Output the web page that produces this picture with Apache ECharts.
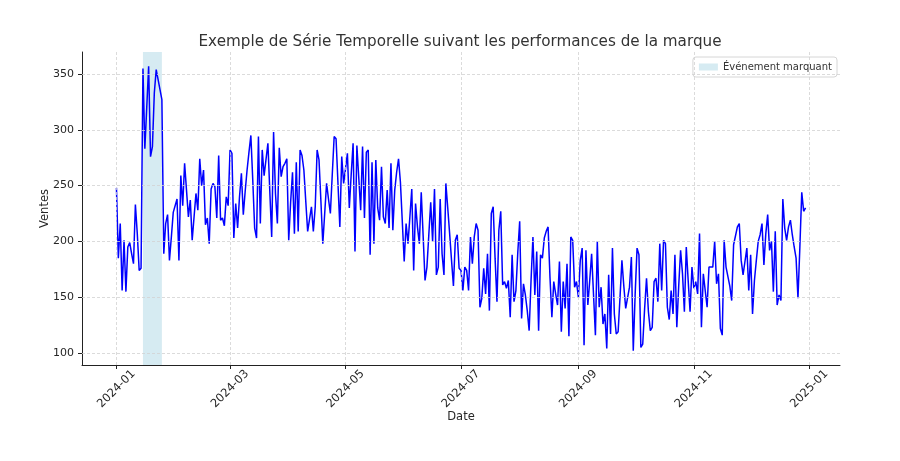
<!DOCTYPE html>
<html>
<head>
<meta charset="utf-8">
<script src="https://cdn.jsdelivr.net/npm/echarts@6/dist/echarts.min.js"></script>
<style>
html,body{margin:0;padding:0;background:#fff;}
#chart{width:900px;height:461px;}
</style>
</head>
<body>
<div id="chart"></div>
<script>
// ---- DATA ----
const startDate = '2024-01-01';   // one value per day from this date
const sales = [
248,185,216,156,201,155,195,199,189,180,233,207,174,176,355,283,320,357,276,285,
333,354,345,345,327,189,216,224,183,204,226,227,238,183,259,232,270,246,222,237,
201,200,243,228,274,250,264,215,221,198,247,252,249,221,277,219,221,214,240,232,
282,279,203,234,212,240,261,224,245,264,280,295,255,212,203,294,216,282,259,258,
288,245,204,298,243,216,284,258,267,270,274,201,235,262,207,271,209,282,277,264,
236,209,220,231,209,231,282,273,236,198,225,252,238,225,260,294,292,291,213,276,
252,265,279,230,260,288,191,286,285,228,285,221,280,282,188,271,198,273,230,219,
267,222,216,246,212,270,210,246,262,274,253,252,182,216,198,222,247,174,234,213,
198,244,205,165,177,206,235,200,247,170,177,238,189,170,252,230,207,183,160,201,
206,176,174,156,177,174,156,204,180,204,216,210,141,149,176,153,189,138,225,231,
185,146,210,227,161,164,158,165,132,188,146,156,190,218,131,162,152,138,120,165,
204,152,191,120,188,185,203,209,213,168,132,164,153,143,182,119,164,140,180,115,
204,201,159,164,150,183,194,107,192,143,165,189,188,116,200,141,159,126,135,104,
170,117,194,135,117,119,150,183,160,140,140,159,186,102,153,194,188,105,108,140,
167,137,120,123,164,167,146,198,156,201,198,141,130,156,135,188,123,160,192,171,
137,195,165,137,177,158,164,153,207,123,171,156,141,177,177,177,200,162,171,122,
116,201,177,176,160,147,197,198,213,216,183,170,182,194,156,188,135,165,183,200,
206,216,179,207,224,192,200,155,209,143,152,147,238,212,201,213,219,206,195,185,
149,195,244,227,230
];
const eventStart = '2024-01-15';
const eventEnd = '2024-01-25';
const eventName = 'Événement marquant';
const xTickLabels = ['2024-01','2024-03','2024-05','2024-07','2024-09','2024-11','2025-01'];
const yTicks = [100,150,200,250,300,350];
const titleText = 'Exemple de Série Temporelle suivant les performances de la marque';
const xName = 'Date';
const yName = 'Ventes';

// ---- BUILD ----
const DAY = 86400000;
function ts(s){ const p = s.split('-').map(Number); return Date.UTC(p[0], p[1]-1, p[2] || 1); }
const t0 = ts(startDate);
const seriesData = sales.map((v,i)=>[t0 + i*DAY, v]);
const xTicks = xTickLabels.map(s=>ts(s));
const tFirst = seriesData[0][0], tLast = seriesData[seriesData.length-1][0];
const xPad = (tLast - tFirst)*0.05;
const yMinV = Math.min(...sales), yMaxV = Math.max(...sales);
const yPad = (yMaxV - yMinV)*0.05;
function fmt(t){ const d = new Date(t); return d.getUTCFullYear() + '-' + String(d.getUTCMonth()+1).padStart(2,'0'); }

const gridLine = {color:'#d2d2d2', width:0.8, type:[3,2]};
const FONT = 'DejaVu Sans';
const TXT = '#262626';

const chart = echarts.init(document.getElementById('chart'), null, {renderer:'canvas'});
chart.setOption({
  animation:false,
  backgroundColor:'#ffffff',
  textStyle:{fontFamily:FONT},
  title:{
    text:titleText, left:455, top:30, textAlign:'center',
    textStyle:{fontFamily:FONT, fontSize:15.2, fontWeight:'normal', color:'#333'}
  },
  legend:{
    data:[{name:eventName, icon:'rect'}],
    right:63, top:57, orient:'vertical',
    itemWidth:19, itemHeight:7, itemGap:4,
    backgroundColor:'#fff', borderColor:'#d6d6d6', borderWidth:1, borderRadius:3,
    padding:[5,5,5,6],
    textStyle:{fontFamily:FONT, fontSize:10, color:'#333'}
  },
  grid:{left:82, right:60, top:52, bottom:96, containLabel:false},
  xAxis:{
    type:'value', min:tFirst - xPad, max:tLast + xPad,
    name:xName, nameLocation:'middle', nameGap:46, nameMoveOverlap:false,
    nameTextStyle:{fontFamily:FONT, fontSize:11.5, color:TXT},
    axisLine:{show:true, onZero:false, lineStyle:{color:'#222', width:1}},
    axisTick:{show:true, customValues:xTicks, length:4, lineStyle:{color:'#222'}},
    axisLabel:{show:true, customValues:xTicks, formatter:fmt, rotate:45, align:'center', verticalAlign:'middle', margin:24,
      fontFamily:FONT, fontSize:11.5, color:TXT},
    splitLine:{show:false}
  },
  yAxis:{
    type:'value', min:yMinV - yPad, max:yMaxV + yPad,
    name:yName, nameLocation:'middle', nameGap:31, nameMoveOverlap:false,
    nameTextStyle:{fontFamily:FONT, fontSize:11.5, color:TXT},
    axisLine:{show:true, lineStyle:{color:'#222', width:1}},
    axisTick:{show:true, customValues:yTicks, length:4, lineStyle:{color:'#222'}},
    axisLabel:{show:true, customValues:yTicks, margin:8, fontFamily:FONT, fontSize:11, color:TXT},
    splitLine:{show:false}
  },
  series:[
    {
      name:'grid', type:'line', data:[], silent:true, z:0,
      markLine:{
        silent:true, symbol:['none','none'], label:{show:false},
        lineStyle:gridLine, animation:false,
        data: xTicks.map(t=>({xAxis:t})).concat(yTicks.map(v=>({yAxis:v})))
      }
    },
    {
      name:eventName, type:'line', data:[], z:1,
      itemStyle:{color:'rgba(173,216,230,0.5)'},
      lineStyle:{color:'rgba(173,216,230,0.5)'},
      markArea:{
        silent:true,
        itemStyle:{color:'rgba(173,216,230,0.5)'},
        data:[[{xAxis:ts(eventStart)},{xAxis:ts(eventEnd)}]]
      }
    },
    {
      name:'Ventes', type:'line', data:seriesData, z:3,
      showSymbol:false, symbol:'none',
      lineStyle:{color:'#0000ff', width:1.5},
      itemStyle:{color:'#0000ff'}
    }
  ]
});
</script>
</body>
</html>
